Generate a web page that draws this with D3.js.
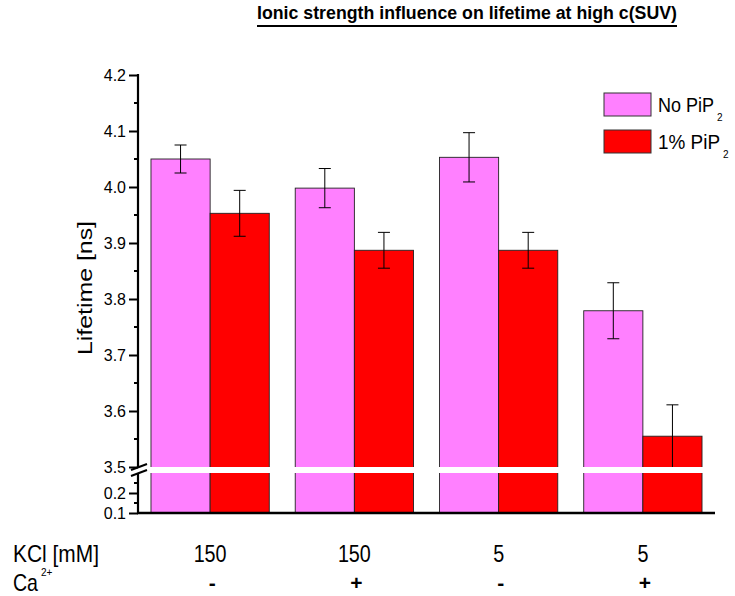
<!DOCTYPE html>
<html>
<head>
<meta charset="utf-8">
<script src="https://cdn.jsdelivr.net/npm/d3@7"></script>
<style>
  body { margin: 0; background: #fff; }
  svg { display: block; font-family: Arial, "Liberation Sans", sans-serif; }
</style>
</head>
<body>
<svg id="chart" width="735" height="596"></svg>
<script>
// data
var kcl = ["150", "150", "5", "5"];
var calcium = ["-", "+", "-", "+"];
var seriesNames = ["No PiP", "1% PiP"];
var noPip = [4.050, 3.998, 4.053, 3.779];
var noPipErr = [0.025, 0.035, 0.044, 0.050];
var onePip = [3.953, 3.887, 3.887, 3.555];
var onePipErr = [0.041, 0.032, 0.032, 0.056];
var upperTicks = [3.5, 3.6, 3.7, 3.8, 3.9, 4.0, 4.1, 4.2];
var lowerTicks = [0.1, 0.2];
var colors = ["#ff80ff", "#ff0000"];

var svg = d3.select("#chart");
var x0 = 138, x1 = 715, yBase = 513;

// broken y axis: two linear pieces
var yUp = d3.scaleLinear().domain([3.5, 4.2]).range([467, 75]);
var yLow = d3.scaleLinear().domain([0.1, 0.3]).range([513, 473]);

var xScale = d3.scaleBand().domain(d3.range(kcl.length)).range([x0, x1])
  .paddingInner(0.18).paddingOuter(0.09);
var xSub = d3.scaleBand().domain([0, 1]).range([0, xScale.bandwidth()]);

var rows = kcl.map(function(k, i) {
  return [
    {g: i, s: 0, v: noPip[i], e: noPipErr[i]},
    {g: i, s: 1, v: onePip[i], e: onePipErr[i]}
  ];
});

var groups = svg.selectAll(".grp").data(rows).enter().append("g")
  .attr("class", "grp")
  .attr("transform", function(d, i) { return "translate(" + xScale(i) + ",0)"; });

groups.selectAll("rect").data(function(d) { return d; }).enter().append("rect")
  .attr("x", function(d) { return xSub(d.s); })
  .attr("y", function(d) { return yUp(d.v); })
  .attr("width", xSub.bandwidth())
  .attr("height", function(d) { return yBase - yUp(d.v); })
  .attr("fill", function(d) { return colors[d.s]; })
  .attr("stroke", "#222").attr("stroke-width", 0.9);

// white gap of the axis break
svg.append("rect").attr("x", x0 + 1).attr("y", yUp(3.5)).attr("width", 564)
  .attr("height", yLow(0.3) - yUp(3.5)).attr("fill", "#fff");

// error bars
var eb = groups.selectAll(".eb").data(function(d) { return d; }).enter().append("g")
  .attr("class", "eb").attr("stroke", "#000").attr("stroke-width", 1)
  .attr("transform", function(d) { return "translate(" + (xSub(d.s) + xSub.bandwidth() / 2) + ",0)"; });
eb.append("line").attr("y1", function(d) { return yUp(d.v + d.e); })
  .attr("y2", function(d) { return yUp(d.v - d.e); });
eb.append("line").attr("x1", -6).attr("x2", 6)
  .attr("y1", function(d) { return yUp(d.v + d.e); }).attr("y2", function(d) { return yUp(d.v + d.e); });
eb.append("line").attr("x1", -6).attr("x2", 6)
  .attr("y1", function(d) { return yUp(d.v - d.e); }).attr("y2", function(d) { return yUp(d.v - d.e); });

// axes
function styleAxis(g) {
  g.select(".domain").remove();
  g.selectAll(".tick line").attr("stroke", "#000").attr("stroke-width", 2);
  g.selectAll(".tick text").attr("font-size", 16).attr("font-family", "Arial, 'Liberation Sans', sans-serif").attr("fill", "#000");
}
svg.append("g").attr("transform", "translate(" + x0 + ",0)")
  .call(d3.axisLeft(yUp).tickValues(upperTicks).tickFormat(d3.format(".1f")).tickSize(9).tickPadding(3))
  .call(styleAxis);
svg.append("g").attr("transform", "translate(" + x0 + ",0)")
  .call(d3.axisLeft(yLow).tickValues(lowerTicks).tickFormat(d3.format(".1f")).tickSize(9).tickPadding(3))
  .call(styleAxis);
// minor ticks
var minorUp = d3.range(3.55, 4.2, 0.1), minorLow = [0.15, 0.25];
svg.append("g").selectAll("line").data(minorUp.map(yUp).concat(minorLow.map(yLow))).enter().append("line")
  .attr("x1", x0 - 4).attr("x2", x0).attr("y1", function(d) { return d; }).attr("y2", function(d) { return d; })
  .attr("stroke", "#000").attr("stroke-width", 2);

svg.append("line").attr("x1", x0).attr("x2", x0).attr("y1", yUp(4.2) - 1).attr("y2", yUp(3.5))
  .attr("stroke", "#000").attr("stroke-width", 2.2);
svg.append("line").attr("x1", x0).attr("x2", x0).attr("y1", yLow(0.3)).attr("y2", yBase)
  .attr("stroke", "#000").attr("stroke-width", 2.2);
svg.append("line").attr("x1", x0 - 1).attr("x2", x1).attr("y1", yBase).attr("y2", yBase)
  .attr("stroke", "#000").attr("stroke-width", 2.5);
// break marks
[yUp(3.5), yLow(0.3)].forEach(function(y) {
  svg.append("line").attr("x1", x0 - 7).attr("x2", x0 + 9).attr("y1", y + 3).attr("y2", y - 3)
    .attr("stroke", "#000").attr("stroke-width", 2);
});

// title
svg.append("text").attr("x", 467).attr("y", 19).attr("text-anchor", "middle")
  .attr("font-size", 18).attr("font-weight", "bold")
  .attr("textLength", 420).attr("lengthAdjust", "spacingAndGlyphs")
  .text("Ionic strength influence on lifetime at high c(SUV)");
svg.append("line").attr("x1", 257).attr("x2", 677).attr("y1", 26).attr("y2", 26)
  .attr("stroke", "#000").attr("stroke-width", 2);

// y label
svg.append("text").attr("transform", "translate(92,288) rotate(-90)")
  .attr("text-anchor", "middle").attr("font-size", 21)
  .attr("textLength", 134).attr("lengthAdjust", "spacingAndGlyphs")
  .text("Lifetime [ns]");

// legend
var legW = [56, 62];
var leg = svg.append("g").selectAll("g").data(seriesNames).enter().append("g")
  .attr("transform", function(d, i) { return "translate(604," + (93 + i * 37) + ")"; });
leg.append("rect").attr("width", 47).attr("height", 23)
  .attr("fill", function(d, i) { return colors[i]; }).attr("stroke", "#333").attr("stroke-width", 1);
leg.append("text").attr("x", 54).attr("y", 19).attr("font-size", 21)
  .attr("textLength", function(d, i) { return legW[i]; }).attr("lengthAdjust", "spacingAndGlyphs")
  .text(function(d) { return d; });
leg.append("text").attr("x", function(d, i) { return 57 + legW[i]; }).attr("y", 28)
  .attr("font-size", 10).text("2");

// category labels below the axis
function condensed(sel, w) {
  sel.attr("textLength", w).attr("lengthAdjust", "spacingAndGlyphs");
}
svg.append("text").attr("x", 13).attr("y", 562).attr("font-size", 24).text("KCl [mM]").call(condensed, 86);
svg.append("text").attr("x", 13).attr("y", 591).attr("font-size", 24).text("Ca").call(condensed, 25);
svg.append("text").attr("x", 41).attr("y", 576).attr("font-size", 10).text("2+");

svg.selectAll(".kcl").data(kcl).enter().append("text").attr("class", "kcl")
  .attr("x", function(d, i) { return xScale(i) + xScale.bandwidth() / 2; })
  .attr("y", 562).attr("text-anchor", "middle").attr("font-size", 24)
  .each(function(d) { d3.select(this).call(condensed, d.length * 11); })
  .text(function(d) { return d; });
svg.selectAll(".ca").data(calcium).enter().append("text").attr("class", "ca")
  .attr("x", function(d, i) { return xScale(i) + xScale.bandwidth() / 2 + 2; })
  .attr("y", 590).attr("text-anchor", "middle").attr("font-size", 21).attr("font-weight", "bold")
  .text(function(d) { return d; });
</script>
</body>
</html>
